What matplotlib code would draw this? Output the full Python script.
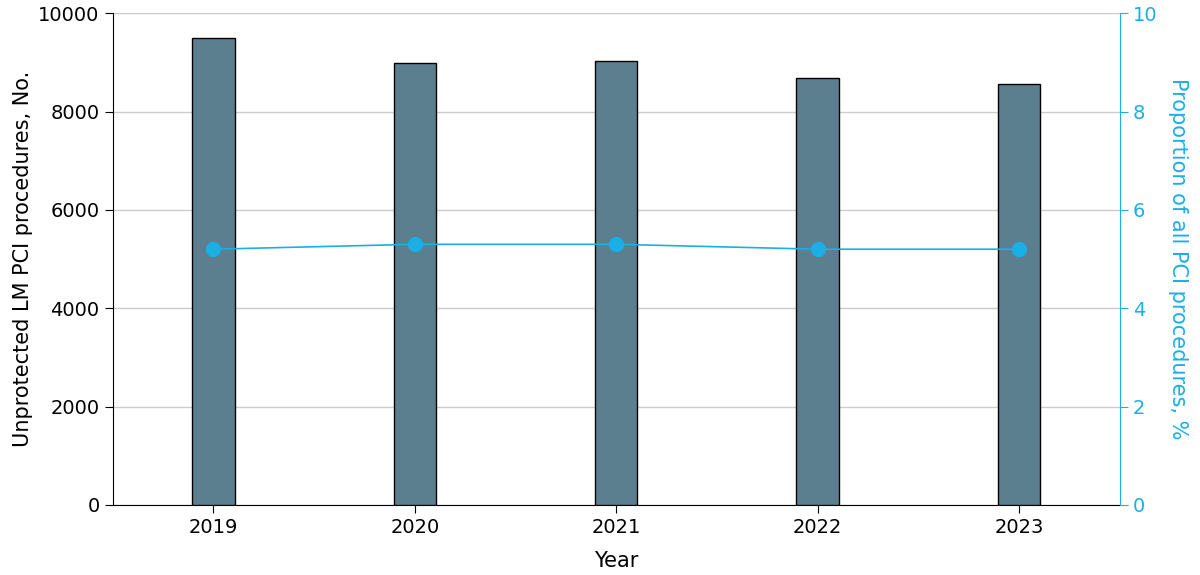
import matplotlib
matplotlib.use("Agg")
import matplotlib.pyplot as plt

years = ["2019", "2020", "2021", "2022", "2023"]
counts = [9500, 8990, 9030, 8680, 8560]
proportion = [5.2, 5.3, 5.3, 5.2, 5.2]

cyan = "#1aafe6"
fig = plt.figure(figsize=(12, 5.75), dpi=100)
ax = fig.add_axes([0.094, 0.122, 0.839, 0.855])
x = range(len(years))
ax.bar(x, counts, width=0.21, color="#5b7f8f", edgecolor="black", linewidth=1, zorder=3)
ax.set_xlim(-0.5, 4.5)
ax.set_ylim(0, 10000)
ax.set_yticks(range(0, 10001, 2000))
ax.yaxis.grid(True, color="#cccccc", linewidth=1, zorder=0)
ax.set_xticks(list(x))
ax.set_xticklabels(years)
ax.tick_params(labelsize=14, length=6)
ax.set_xlabel("Year", fontsize=15, labelpad=10)
ax.set_ylabel("Unprotected LM PCI procedures, No.", fontsize=15)
ax.spines["top"].set_visible(False)
ax.spines["right"].set_visible(False)

ax2 = ax.twinx()
ax2.plot(list(x), proportion, color=cyan, marker="o", markersize=10, linewidth=1.2, zorder=4)
ax2.set_ylim(0, 10)
ax2.set_yticks(range(0, 11, 2))
ax2.tick_params(axis="y", colors=cyan, labelsize=14, length=6)
ax2.spines["right"].set_color(cyan)
ax2.spines["top"].set_visible(False)
ax2.spines["left"].set_visible(False)
ax2.spines["bottom"].set_visible(False)
ax2.set_ylabel("Proportion of all PCI procedures, %", fontsize=15, color=cyan, rotation=270, labelpad=22)

fig.savefig("out.png", dpi=100)
